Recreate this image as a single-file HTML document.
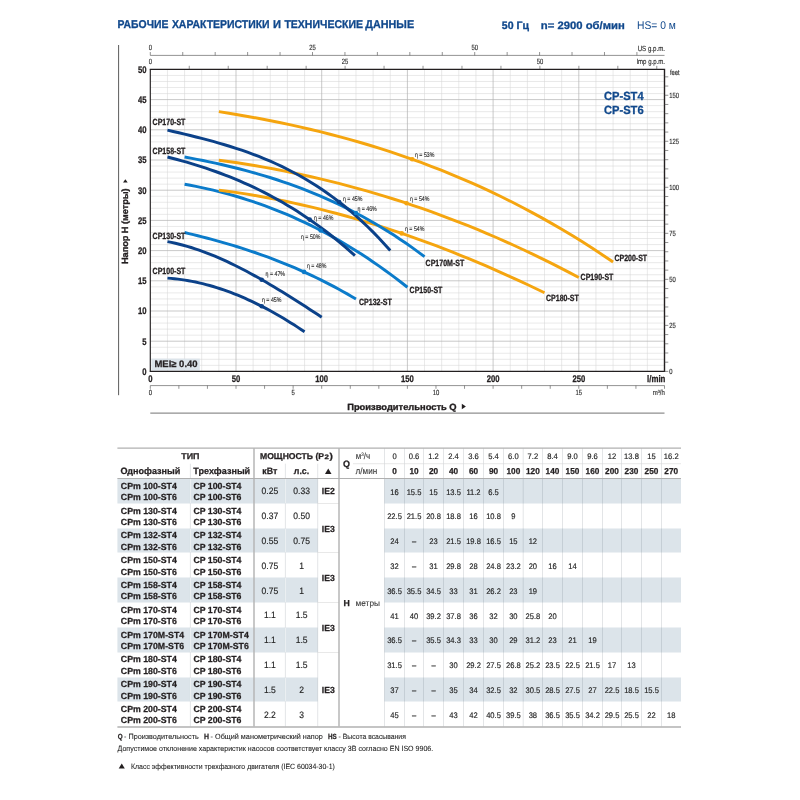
<!DOCTYPE html>
<html lang="ru">
<head>
<meta charset="utf-8">
<title>CP-ST4 / CP-ST6 — рабочие характеристики и технические данные</title>
<style>
html,body{margin:0;padding:0;background:#fff}
body{width:800px;height:800px;overflow:hidden}
svg{display:block;font-family:"Liberation Sans",sans-serif;text-rendering:geometricPrecision}
</style>
</head>
<body>
<svg width="800" height="800" viewBox="0 0 800 800" role="img" aria-label="CP-ST4 CP-ST6">
<rect width="800" height="800" fill="#fff"/>
<text y="28.4" font-size="11.3" font-weight="bold" fill="#10488c" stroke="#10488c" stroke-width="0.3"><tspan x="117.5" textLength="50.9" lengthAdjust="spacingAndGlyphs">РАБОЧИЕ</tspan> <tspan x="171.9" textLength="97.7" lengthAdjust="spacingAndGlyphs">ХАРАКТЕРИСТИКИ</tspan> <tspan x="272.9" textLength="8" lengthAdjust="spacingAndGlyphs">И</tspan> <tspan x="284.4" textLength="78.6" lengthAdjust="spacingAndGlyphs">ТЕХНИЧЕСКИЕ</tspan> <tspan x="365.3" textLength="48.8" lengthAdjust="spacingAndGlyphs">ДАННЫЕ</tspan></text>
<text x="501.8" y="28.5" font-size="10.8" font-weight="bold" fill="#10488c" textLength="27.2" lengthAdjust="spacingAndGlyphs" stroke="#10488c" stroke-width="0.3">50 Гц</text>
<text x="540.8" y="28.5" font-size="10.8" font-weight="bold" fill="#10488c" textLength="84" lengthAdjust="spacingAndGlyphs" stroke="#10488c" stroke-width="0.3">n= 2900 об/мин</text>
<text x="637" y="28.8" font-size="11.2" fill="#10488c" textLength="38.8" lengthAdjust="spacingAndGlyphs">HS= 0 м</text>
<line x1="118.6" y1="45" x2="118.6" y2="395.2" stroke="#4a4a4a" stroke-width="0.9"/>
<path d="M167.44 69.4V371.4M184.58 69.4V371.4M201.72 69.4V371.4M218.86 69.4V371.4M253.14 69.4V371.4M270.28 69.4V371.4M287.42 69.4V371.4M304.56 69.4V371.4M338.84 69.4V371.4M355.98 69.4V371.4M373.12 69.4V371.4M390.26 69.4V371.4M424.54 69.4V371.4M441.68 69.4V371.4M458.82 69.4V371.4M475.96 69.4V371.4M510.24 69.4V371.4M527.38 69.4V371.4M544.52 69.4V371.4M561.66 69.4V371.4M595.94 69.4V371.4M613.08 69.4V371.4M630.22 69.4V371.4M647.36 69.4V371.4M150.3 365.36H664.5M150.3 359.32H664.5M150.3 353.28H664.5M150.3 347.24H664.5M150.3 335.16H664.5M150.3 329.12H664.5M150.3 323.08H664.5M150.3 317.04H664.5M150.3 304.96H664.5M150.3 298.92H664.5M150.3 292.88H664.5M150.3 286.84H664.5M150.3 274.76H664.5M150.3 268.72H664.5M150.3 262.68H664.5M150.3 256.64H664.5M150.3 244.56H664.5M150.3 238.52H664.5M150.3 232.48H664.5M150.3 226.44H664.5M150.3 214.36H664.5M150.3 208.32H664.5M150.3 202.28H664.5M150.3 196.24H664.5M150.3 184.16H664.5M150.3 178.12H664.5M150.3 172.08H664.5M150.3 166.04H664.5M150.3 153.96H664.5M150.3 147.92H664.5M150.3 141.88H664.5M150.3 135.84H664.5M150.3 123.76H664.5M150.3 117.72H664.5M150.3 111.68H664.5M150.3 105.64H664.5M150.3 93.56H664.5M150.3 87.52H664.5M150.3 81.48H664.5M150.3 75.44H664.5" stroke="#d6d6d6" stroke-width="0.55" fill="none"/>
<path d="M236 69.4V371.4M321.7 69.4V371.4M407.4 69.4V371.4M493.1 69.4V371.4M578.8 69.4V371.4M150.3 341.2H664.5M150.3 311H664.5M150.3 280.8H664.5M150.3 250.6H664.5M150.3 220.4H664.5M150.3 190.2H664.5M150.3 160H664.5M150.3 129.8H664.5M150.3 99.6H664.5" stroke="#b2b2b2" stroke-width="0.7" fill="none"/>
<rect x="151.4" y="358.6" width="48.4" height="11.9" fill="#dce4ea"/>
<text x="154.4" y="367.3" font-size="9.4" font-weight="bold" fill="#231f20" textLength="43.2" lengthAdjust="spacingAndGlyphs" stroke="#231f20" stroke-width="0.25">MEI≥ 0.40</text>
<path d="M184.58 232.55 L188.97 233.59 L193.37 234.66 L197.76 235.75 L202.16 236.86 L206.55 238 L210.95 239.17 L215.34 240.37 L219.74 241.59 L224.13 242.84 L228.53 244.12 L232.92 245.44 L237.32 246.78 L241.71 248.16 L246.11 249.58 L250.5 251.03 L254.9 252.52 L259.29 254.04 L263.69 255.6 L268.08 257.2 L272.48 258.85 L276.87 260.53 L281.27 262.26 L285.66 264.03 L290.06 265.84 L294.45 267.7 L298.85 269.6 L303.24 271.56 L307.64 273.56 L312.03 275.61 L316.43 277.71 L320.82 279.86 L325.22 282.06 L329.61 284.32 L334.01 286.63 L338.4 289 L342.8 291.42 L347.19 293.9 L351.59 296.44 L355.98 299.03" stroke="#0b7bca" stroke-width="2.95" fill="none" stroke-linejoin="round"/>
<path d="M184.58 184.18 L190.29 185.24 L196.01 186.37 L201.72 187.57 L207.43 188.83 L213.15 190.17 L218.86 191.59 L224.57 193.08 L230.29 194.64 L236 196.28 L241.71 198.01 L247.43 199.81 L253.14 201.69 L258.85 203.65 L264.57 205.69 L270.28 207.82 L275.99 210.04 L281.71 212.34 L287.42 214.73 L293.13 217.21 L298.85 219.78 L304.56 222.44 L310.27 225.19 L315.99 228.03 L321.7 230.98 L327.41 234.01 L333.13 237.15 L338.84 240.38 L344.55 243.71 L350.27 247.15 L355.98 250.68 L361.69 254.32 L367.41 258.06 L373.12 261.91 L378.83 265.86 L384.55 269.93 L390.26 274.1 L395.97 278.38 L401.69 282.77 L407.4 287.28" stroke="#0b7bca" stroke-width="2.95" fill="none" stroke-linejoin="round"/>
<path d="M218.86 190.09 L227.21 191.18 L235.56 192.37 L243.91 193.64 L252.26 195 L260.61 196.45 L268.96 197.98 L277.31 199.6 L285.66 201.3 L294.01 203.09 L302.36 204.96 L310.71 206.91 L319.06 208.94 L327.41 211.06 L335.76 213.26 L344.11 215.54 L352.46 217.89 L360.81 220.33 L369.16 222.85 L377.51 225.44 L385.87 228.11 L394.22 230.86 L402.57 233.68 L410.92 236.58 L419.27 239.56 L427.62 242.6 L435.97 245.73 L444.32 248.92 L452.67 252.19 L461.02 255.53 L469.37 258.94 L477.72 262.42 L486.07 265.98 L494.42 269.6 L502.77 273.29 L511.12 277.05 L519.47 280.87 L527.82 284.76 L536.17 288.72 L544.52 292.75" stroke="#f5a50f" stroke-width="2.95" fill="none" stroke-linejoin="round"/>
<path d="M218.86 160.17 L228.09 161.44 L237.32 162.8 L246.55 164.24 L255.78 165.77 L265.01 167.38 L274.24 169.07 L283.46 170.86 L292.69 172.73 L301.92 174.69 L311.15 176.74 L320.38 178.87 L329.61 181.1 L338.84 183.42 L348.07 185.83 L357.3 188.32 L366.53 190.92 L375.76 193.6 L384.99 196.38 L394.22 199.25 L403.44 202.22 L412.67 205.28 L421.9 208.44 L431.13 211.7 L440.36 215.05 L449.59 218.51 L458.82 222.06 L468.05 225.71 L477.28 229.46 L486.51 233.31 L495.74 237.26 L504.97 241.31 L514.2 245.47 L523.42 249.73 L532.65 254.09 L541.88 258.56 L551.11 263.13 L560.34 267.81 L569.57 272.6 L578.8 277.49" stroke="#f5a50f" stroke-width="2.95" fill="none" stroke-linejoin="round"/>
<path d="M218.86 111.66 L228.97 113.26 L239.08 114.95 L249.18 116.72 L259.29 118.57 L269.4 120.51 L279.51 122.55 L289.62 124.68 L299.73 126.91 L309.83 129.24 L319.94 131.67 L330.05 134.22 L340.16 136.87 L350.27 139.64 L360.37 142.53 L370.48 145.53 L380.59 148.66 L390.7 151.92 L400.81 155.31 L410.92 158.83 L421.02 162.48 L431.13 166.28 L441.24 170.22 L451.35 174.3 L461.46 178.54 L471.57 182.92 L481.67 187.46 L491.78 192.16 L501.89 197.02 L512 202.04 L522.11 207.24 L532.21 212.6 L542.32 218.14 L552.43 223.85 L562.54 229.74 L572.65 235.82 L582.76 242.09 L592.86 248.54 L602.97 255.19 L613.08 262.03" stroke="#f5a50f" stroke-width="2.95" fill="none" stroke-linejoin="round"/>
<path d="M184.58 157.03 L190.73 158.17 L196.89 159.35 L203.04 160.57 L209.19 161.85 L215.34 163.17 L221.5 164.54 L227.65 165.97 L233.8 167.46 L239.96 169.01 L246.11 170.62 L252.26 172.3 L258.41 174.05 L264.57 175.87 L270.72 177.76 L276.87 179.73 L283.03 181.78 L289.18 183.9 L295.33 186.12 L301.48 188.42 L307.64 190.81 L313.79 193.29 L319.94 195.87 L326.09 198.54 L332.25 201.31 L338.4 204.19 L344.55 207.17 L350.71 210.26 L356.86 213.46 L363.01 216.77 L369.16 220.2 L375.32 223.75 L381.47 227.41 L387.62 231.21 L393.78 235.12 L399.93 239.17 L406.08 243.34 L412.23 247.66 L418.39 252.1 L424.54 256.69" stroke="#0b7bca" stroke-width="2.95" fill="none" stroke-linejoin="round"/>
<path d="M167.44 278.1 L170.96 278.38 L174.47 278.72 L177.99 279.12 L181.5 279.59 L185.02 280.12 L188.54 280.71 L192.05 281.36 L195.57 282.07 L199.08 282.85 L202.6 283.68 L206.11 284.58 L209.63 285.53 L213.15 286.54 L216.66 287.61 L220.18 288.74 L223.69 289.93 L227.21 291.17 L230.73 292.47 L234.24 293.82 L237.76 295.23 L241.27 296.69 L244.79 298.21 L248.31 299.78 L251.82 301.41 L255.34 303.08 L258.85 304.81 L262.37 306.59 L265.89 308.43 L269.4 310.31 L272.92 312.24 L276.43 314.22 L279.95 316.25 L283.46 318.33 L286.98 320.46 L290.5 322.64 L294.01 324.86 L297.53 327.13 L301.04 329.45 L304.56 331.81" stroke="#0b4189" stroke-width="2.95" fill="none" stroke-linejoin="round"/>
<path d="M167.44 241.65 L171.4 242.41 L175.35 243.26 L179.31 244.2 L183.26 245.23 L187.22 246.34 L191.17 247.52 L195.13 248.79 L199.08 250.13 L203.04 251.54 L206.99 253.03 L210.95 254.58 L214.9 256.2 L218.86 257.89 L222.82 259.63 L226.77 261.44 L230.73 263.31 L234.68 265.23 L238.64 267.2 L242.59 269.23 L246.55 271.31 L250.5 273.43 L254.46 275.6 L258.41 277.81 L262.37 280.06 L266.32 282.34 L270.28 284.67 L274.24 287.03 L278.19 289.42 L282.15 291.83 L286.1 294.28 L290.06 296.75 L294.01 299.24 L297.97 301.76 L301.92 304.29 L305.88 306.84 L309.83 309.4 L313.79 311.97 L317.74 314.56 L321.7 317.15" stroke="#0b4189" stroke-width="2.95" fill="none" stroke-linejoin="round"/>
<path d="M167.44 156.97 L172.25 158.21 L177.06 159.49 L181.86 160.81 L186.67 162.18 L191.48 163.6 L196.29 165.07 L201.1 166.59 L205.9 168.17 L210.71 169.81 L215.52 171.5 L220.33 173.26 L225.14 175.08 L229.94 176.96 L234.75 178.91 L239.56 180.93 L244.37 183.03 L249.18 185.19 L253.98 187.44 L258.79 189.75 L263.6 192.15 L268.41 194.63 L273.22 197.2 L278.02 199.85 L282.83 202.59 L287.64 205.42 L292.45 208.34 L297.26 211.35 L302.06 214.46 L306.87 217.67 L311.68 220.98 L316.49 224.39 L321.3 227.9 L326.1 231.53 L330.91 235.26 L335.72 239.1 L340.53 243.05 L345.34 247.12 L350.14 251.3 L354.95 255.6" stroke="#0b4189" stroke-width="2.95" fill="none" stroke-linejoin="round"/>
<path d="M167.44 130.12 L173.15 131.45 L178.87 132.79 L184.58 134.15 L190.29 135.53 L196.01 136.95 L201.72 138.4 L207.43 139.9 L213.15 141.45 L218.86 143.06 L224.57 144.73 L230.29 146.47 L236 148.29 L241.71 150.2 L247.43 152.19 L253.14 154.28 L258.85 156.48 L264.57 158.78 L270.28 161.2 L275.99 163.75 L281.71 166.42 L287.42 169.23 L293.13 172.19 L298.85 175.29 L304.56 178.55 L310.27 181.97 L315.99 185.55 L321.7 189.32 L327.41 193.27 L333.13 197.4 L338.84 201.73 L344.55 206.26 L350.27 211 L355.98 215.95 L361.69 221.13 L367.41 226.53 L373.12 232.16 L378.83 238.04 L384.55 244.16 L390.26 250.54" stroke="#0b4189" stroke-width="2.95" fill="none" stroke-linejoin="round"/>
<circle cx="261.71" cy="306.26" r="2.3" fill="#0b4189"/>
<text x="262" y="302.11" font-size="6.7" fill="#262626" textLength="19.4" lengthAdjust="spacingAndGlyphs" stroke="#262626" stroke-width="0.12">η = 45%</text>
<circle cx="261.71" cy="279.68" r="2.3" fill="#0b4189"/>
<text x="265.6" y="276.11" font-size="6.7" fill="#262626" textLength="19.4" lengthAdjust="spacingAndGlyphs" stroke="#262626" stroke-width="0.12">η = 47%</text>
<circle cx="304.05" cy="271.92" r="2.3" fill="#0b7bca"/>
<text x="307" y="268.11" font-size="6.7" fill="#262626" textLength="19.4" lengthAdjust="spacingAndGlyphs" stroke="#262626" stroke-width="0.12">η = 48%</text>
<circle cx="309.7" cy="219.61" r="2.3" fill="#0b4189"/>
<text x="314" y="219.51" font-size="6.7" fill="#262626" textLength="19.4" lengthAdjust="spacingAndGlyphs" stroke="#262626" stroke-width="0.12">η = 46%</text>
<circle cx="320.67" cy="230.44" r="2.3" fill="#0b7bca"/>
<text x="301" y="238.51" font-size="6.7" fill="#262626" textLength="19.4" lengthAdjust="spacingAndGlyphs" stroke="#262626" stroke-width="0.12">η = 50%</text>
<circle cx="339.18" cy="202" r="2.3" fill="#0b4189"/>
<text x="343" y="200.51" font-size="6.7" fill="#262626" textLength="19.4" lengthAdjust="spacingAndGlyphs" stroke="#262626" stroke-width="0.12">η = 45%</text>
<circle cx="355.98" cy="213" r="2.3" fill="#0b7bca"/>
<text x="357.4" y="210.91" font-size="6.7" fill="#262626" textLength="19.4" lengthAdjust="spacingAndGlyphs" stroke="#262626" stroke-width="0.12">η = 46%</text>
<circle cx="412.2" cy="159.28" r="2.3" fill="#f5a50f"/>
<text x="415" y="156.51" font-size="6.7" fill="#262626" textLength="19.4" lengthAdjust="spacingAndGlyphs" stroke="#262626" stroke-width="0.12">η = 53%</text>
<circle cx="406.54" cy="203.24" r="2.3" fill="#f5a50f"/>
<text x="410" y="200.51" font-size="6.7" fill="#262626" textLength="19.4" lengthAdjust="spacingAndGlyphs" stroke="#262626" stroke-width="0.12">η = 54%</text>
<circle cx="401.74" cy="233.4" r="2.3" fill="#f5a50f"/>
<text x="405" y="230.51" font-size="6.7" fill="#262626" textLength="19.4" lengthAdjust="spacingAndGlyphs" stroke="#262626" stroke-width="0.12">η = 54%</text>
<path d="M149.75 69.4H665.2M149.75 371.4H665.2M664.5 69.4V371.4" fill="none" stroke="#231f20" stroke-width="1.4"/>
<path d="M150.3 69.4V371.4" fill="none" stroke="#231f20" stroke-width="1.15"/>
<text x="604" y="100" font-size="11.8" font-weight="bold" fill="#10488c" textLength="39.6" lengthAdjust="spacingAndGlyphs" stroke="#10488c" stroke-width="0.3">CP-ST4</text>
<text x="604" y="114" font-size="11.8" font-weight="bold" fill="#10488c" textLength="39.6" lengthAdjust="spacingAndGlyphs" stroke="#10488c" stroke-width="0.3">CP-ST6</text>
<text x="152.6" y="125.2" font-size="9" font-weight="bold" fill="#231f20" textLength="32.77" lengthAdjust="spacingAndGlyphs" stroke="#231f20" stroke-width="0.3">CP170-ST</text>
<text x="152.6" y="153.6" font-size="9" font-weight="bold" fill="#231f20" textLength="32.77" lengthAdjust="spacingAndGlyphs" stroke="#231f20" stroke-width="0.3">CP158-ST</text>
<text x="152.6" y="239.2" font-size="9" font-weight="bold" fill="#231f20" textLength="32.77" lengthAdjust="spacingAndGlyphs" stroke="#231f20" stroke-width="0.3">CP130-ST</text>
<text x="152.6" y="274.2" font-size="9" font-weight="bold" fill="#231f20" textLength="32.77" lengthAdjust="spacingAndGlyphs" stroke="#231f20" stroke-width="0.3">CP100-ST</text>
<text x="359" y="305.1" font-size="9" font-weight="bold" fill="#231f20" textLength="32.77" lengthAdjust="spacingAndGlyphs" stroke="#231f20" stroke-width="0.3">CP132-ST</text>
<text x="409.6" y="293.3" font-size="9" font-weight="bold" fill="#231f20" textLength="32.77" lengthAdjust="spacingAndGlyphs" stroke="#231f20" stroke-width="0.3">CP150-ST</text>
<text x="425.6" y="265.6" font-size="9" font-weight="bold" fill="#231f20" textLength="38.62" lengthAdjust="spacingAndGlyphs" stroke="#231f20" stroke-width="0.3">CP170M-ST</text>
<text x="546" y="300.5" font-size="9" font-weight="bold" fill="#231f20" textLength="32.77" lengthAdjust="spacingAndGlyphs" stroke="#231f20" stroke-width="0.3">CP180-ST</text>
<text x="580.6" y="279.5" font-size="9" font-weight="bold" fill="#231f20" textLength="32.77" lengthAdjust="spacingAndGlyphs" stroke="#231f20" stroke-width="0.3">CP190-ST</text>
<text x="614.4" y="260.8" font-size="9" font-weight="bold" fill="#231f20" textLength="32.77" lengthAdjust="spacingAndGlyphs" stroke="#231f20" stroke-width="0.3">CP200-ST</text>
<text x="146.6" y="374.7" font-size="9.6" font-weight="bold" text-anchor="end" fill="#231f20" textLength="4.27" lengthAdjust="spacingAndGlyphs" stroke="#231f20" stroke-width="0.3">0</text>
<text x="146.6" y="344.5" font-size="9.6" font-weight="bold" text-anchor="end" fill="#231f20" textLength="4.27" lengthAdjust="spacingAndGlyphs" stroke="#231f20" stroke-width="0.3">5</text>
<text x="146.6" y="314.3" font-size="9.6" font-weight="bold" text-anchor="end" fill="#231f20" textLength="8.54" lengthAdjust="spacingAndGlyphs" stroke="#231f20" stroke-width="0.3">10</text>
<text x="146.6" y="284.1" font-size="9.6" font-weight="bold" text-anchor="end" fill="#231f20" textLength="8.54" lengthAdjust="spacingAndGlyphs" stroke="#231f20" stroke-width="0.3">15</text>
<text x="146.6" y="253.9" font-size="9.6" font-weight="bold" text-anchor="end" fill="#231f20" textLength="8.54" lengthAdjust="spacingAndGlyphs" stroke="#231f20" stroke-width="0.3">20</text>
<text x="146.6" y="223.7" font-size="9.6" font-weight="bold" text-anchor="end" fill="#231f20" textLength="8.54" lengthAdjust="spacingAndGlyphs" stroke="#231f20" stroke-width="0.3">25</text>
<text x="146.6" y="193.5" font-size="9.6" font-weight="bold" text-anchor="end" fill="#231f20" textLength="8.54" lengthAdjust="spacingAndGlyphs" stroke="#231f20" stroke-width="0.3">30</text>
<text x="146.6" y="163.3" font-size="9.6" font-weight="bold" text-anchor="end" fill="#231f20" textLength="8.54" lengthAdjust="spacingAndGlyphs" stroke="#231f20" stroke-width="0.3">35</text>
<text x="146.6" y="133.1" font-size="9.6" font-weight="bold" text-anchor="end" fill="#231f20" textLength="8.54" lengthAdjust="spacingAndGlyphs" stroke="#231f20" stroke-width="0.3">40</text>
<text x="146.6" y="102.9" font-size="9.6" font-weight="bold" text-anchor="end" fill="#231f20" textLength="8.54" lengthAdjust="spacingAndGlyphs" stroke="#231f20" stroke-width="0.3">45</text>
<text x="146.6" y="72.7" font-size="9.6" font-weight="bold" text-anchor="end" fill="#231f20" textLength="8.54" lengthAdjust="spacingAndGlyphs" stroke="#231f20" stroke-width="0.3">50</text>
<text x="150.3" y="381.6" font-size="9.6" font-weight="bold" text-anchor="middle" fill="#231f20" textLength="4.27" lengthAdjust="spacingAndGlyphs" stroke="#231f20" stroke-width="0.3">0</text>
<text x="236" y="381.6" font-size="9.6" font-weight="bold" text-anchor="middle" fill="#231f20" textLength="8.54" lengthAdjust="spacingAndGlyphs" stroke="#231f20" stroke-width="0.3">50</text>
<text x="321.7" y="381.6" font-size="9.6" font-weight="bold" text-anchor="middle" fill="#231f20" textLength="12.81" lengthAdjust="spacingAndGlyphs" stroke="#231f20" stroke-width="0.3">100</text>
<text x="407.4" y="381.6" font-size="9.6" font-weight="bold" text-anchor="middle" fill="#231f20" textLength="12.81" lengthAdjust="spacingAndGlyphs" stroke="#231f20" stroke-width="0.3">150</text>
<text x="493.1" y="381.6" font-size="9.6" font-weight="bold" text-anchor="middle" fill="#231f20" textLength="12.81" lengthAdjust="spacingAndGlyphs" stroke="#231f20" stroke-width="0.3">200</text>
<text x="578.8" y="381.6" font-size="9.6" font-weight="bold" text-anchor="middle" fill="#231f20" textLength="12.81" lengthAdjust="spacingAndGlyphs" stroke="#231f20" stroke-width="0.3">250</text>
<text x="665.4" y="381.6" font-size="9.6" font-weight="bold" text-anchor="end" fill="#231f20" textLength="18.3" lengthAdjust="spacingAndGlyphs" stroke="#231f20" stroke-width="0.3">l/min</text>
<g transform="translate(127.5 264.0) rotate(-90)">
<text x="0" y="0" font-size="9" font-weight="bold" fill="#231f20" textLength="75.6" lengthAdjust="spacingAndGlyphs" stroke="#231f20" stroke-width="0.35">Напор H (метры)</text>
<path d="M81.4 -4.5l3.3 2.35l-3.3 2.35z" fill="#231f20"/>
</g>
<text x="347.2" y="410.1" font-size="9" font-weight="bold" fill="#231f20" textLength="109.4" lengthAdjust="spacingAndGlyphs" stroke="#231f20" stroke-width="0.35">Производительность Q</text>
<path d="M461.8 403.8l4.1 2.7l-4.1 2.7z" fill="#231f20"/>
<line x1="150.3" y1="55.4" x2="664.5" y2="55.4" stroke="#4a4a4a" stroke-width="0.6"/>
<path d="M150.3 52V55.4M182.74 52V55.4M215.18 52V55.4M247.62 52V55.4M280.06 52V55.4M312.5 52V55.4M344.95 52V55.4M377.39 52V55.4M409.83 52V55.4M442.27 52V55.4M474.71 52V55.4M507.15 52V55.4M539.59 52V55.4M572.03 52V55.4M604.47 52V55.4M636.91 52V55.4" stroke="#4a4a4a" stroke-width="0.6" fill="none"/>
<text x="150.3" y="50.4" font-size="7.6" text-anchor="middle" fill="#2b2b2b" textLength="3.25" lengthAdjust="spacingAndGlyphs" stroke="#2b2b2b" stroke-width="0.15">0</text>
<text x="312.5" y="50.4" font-size="7.6" text-anchor="middle" fill="#2b2b2b" textLength="6.51" lengthAdjust="spacingAndGlyphs" stroke="#2b2b2b" stroke-width="0.15">25</text>
<text x="474.71" y="50.4" font-size="7.6" text-anchor="middle" fill="#2b2b2b" textLength="6.51" lengthAdjust="spacingAndGlyphs" stroke="#2b2b2b" stroke-width="0.15">50</text>
<text x="665" y="50.5" font-size="7.6" text-anchor="end" fill="#2b2b2b" textLength="27.3" lengthAdjust="spacingAndGlyphs" stroke="#2b2b2b" stroke-width="0.15">US g.p.m.</text>
<path d="M189.26 65.8V69.4M228.22 65.8V69.4M267.18 65.8V69.4M306.14 65.8V69.4M345.1 65.8V69.4M384.06 65.8V69.4M423.02 65.8V69.4M461.98 65.8V69.4M500.94 65.8V69.4M539.9 65.8V69.4M578.86 65.8V69.4M617.82 65.8V69.4M656.78 65.8V69.4" stroke="#4a4a4a" stroke-width="0.6" fill="none"/>
<text x="150.3" y="64.3" font-size="7.6" text-anchor="middle" fill="#2b2b2b" textLength="3.25" lengthAdjust="spacingAndGlyphs" stroke="#2b2b2b" stroke-width="0.15">0</text>
<text x="345.1" y="64.3" font-size="7.6" text-anchor="middle" fill="#2b2b2b" textLength="6.51" lengthAdjust="spacingAndGlyphs" stroke="#2b2b2b" stroke-width="0.15">25</text>
<text x="539.9" y="64.3" font-size="7.6" text-anchor="middle" fill="#2b2b2b" textLength="6.51" lengthAdjust="spacingAndGlyphs" stroke="#2b2b2b" stroke-width="0.15">50</text>
<text x="665" y="64.4" font-size="7.6" text-anchor="end" fill="#2b2b2b" textLength="28.6" lengthAdjust="spacingAndGlyphs" stroke="#2b2b2b" stroke-width="0.15">Imp g.p.m.</text>
<path d="M664.5 371.4h3.8M664.5 362.2h3.8M664.5 352.99h3.8M664.5 343.79h3.8M664.5 334.58h3.8M664.5 325.38h3.8M664.5 316.17h3.8M664.5 306.97h3.8M664.5 297.76h3.8M664.5 288.56h3.8M664.5 279.35h3.8M664.5 270.15h3.8M664.5 260.94h3.8M664.5 251.74h3.8M664.5 242.53h3.8M664.5 233.33h3.8M664.5 224.12h3.8M664.5 214.92h3.8M664.5 205.71h3.8M664.5 196.51h3.8M664.5 187.3h3.8M664.5 178.1h3.8M664.5 168.89h3.8M664.5 159.69h3.8M664.5 150.48h3.8M664.5 141.28h3.8M664.5 132.07h3.8M664.5 122.87h3.8M664.5 113.66h3.8M664.5 104.46h3.8M664.5 95.25h3.8M664.5 86.05h3.8M664.5 76.84h3.8" stroke="#4a4a4a" stroke-width="0.6" fill="none"/>
<text x="669.2" y="374.05" font-size="7.6" fill="#2b2b2b" textLength="3.25" lengthAdjust="spacingAndGlyphs" stroke="#2b2b2b" stroke-width="0.15">0</text>
<text x="669.2" y="328.03" font-size="7.6" fill="#2b2b2b" textLength="6.51" lengthAdjust="spacingAndGlyphs" stroke="#2b2b2b" stroke-width="0.15">25</text>
<text x="669.2" y="282" font-size="7.6" fill="#2b2b2b" textLength="6.51" lengthAdjust="spacingAndGlyphs" stroke="#2b2b2b" stroke-width="0.15">50</text>
<text x="669.2" y="235.98" font-size="7.6" fill="#2b2b2b" textLength="6.51" lengthAdjust="spacingAndGlyphs" stroke="#2b2b2b" stroke-width="0.15">75</text>
<text x="669.2" y="189.95" font-size="7.6" fill="#2b2b2b" textLength="9.76" lengthAdjust="spacingAndGlyphs" stroke="#2b2b2b" stroke-width="0.15">100</text>
<text x="669.2" y="143.93" font-size="7.6" fill="#2b2b2b" textLength="9.76" lengthAdjust="spacingAndGlyphs" stroke="#2b2b2b" stroke-width="0.15">125</text>
<text x="669.2" y="97.9" font-size="7.6" fill="#2b2b2b" textLength="9.76" lengthAdjust="spacingAndGlyphs" stroke="#2b2b2b" stroke-width="0.15">150</text>
<text x="669.9" y="74.6" font-size="7.6" fill="#2b2b2b" textLength="9.76" lengthAdjust="spacingAndGlyphs" stroke="#2b2b2b" stroke-width="0.15">feet</text>
<line x1="150.3" y1="385.6" x2="664.5" y2="385.6" stroke="#4a4a4a" stroke-width="0.6"/>
<path d="M150.3 385.6v3.2M178.87 385.6v3.2M207.43 385.6v3.2M236 385.6v3.2M264.57 385.6v3.2M293.13 385.6v3.2M321.7 385.6v3.2M350.27 385.6v3.2M378.83 385.6v3.2M407.4 385.6v3.2M435.97 385.6v3.2M464.53 385.6v3.2M493.1 385.6v3.2M521.67 385.6v3.2M550.23 385.6v3.2M578.8 385.6v3.2M607.37 385.6v3.2M635.93 385.6v3.2M664.5 385.6v3.2" stroke="#4a4a4a" stroke-width="0.6" fill="none"/>
<text x="150.3" y="395" font-size="7.4" text-anchor="middle" fill="#2b2b2b" textLength="3.29" lengthAdjust="spacingAndGlyphs" stroke="#2b2b2b" stroke-width="0.15">0</text>
<text x="293.13" y="395" font-size="7.4" text-anchor="middle" fill="#2b2b2b" textLength="3.29" lengthAdjust="spacingAndGlyphs" stroke="#2b2b2b" stroke-width="0.15">5</text>
<text x="435.97" y="395" font-size="7.4" text-anchor="middle" fill="#2b2b2b" textLength="6.58" lengthAdjust="spacingAndGlyphs" stroke="#2b2b2b" stroke-width="0.15">10</text>
<text x="578.8" y="395" font-size="7.4" text-anchor="middle" fill="#2b2b2b" textLength="6.58" lengthAdjust="spacingAndGlyphs" stroke="#2b2b2b" stroke-width="0.15">15</text>
<text x="664.9" y="395.4" font-size="7.4" text-anchor="end" fill="#2b2b2b" textLength="12.2" lengthAdjust="spacingAndGlyphs" stroke="#2b2b2b" stroke-width="0.15">m<tspan font-size="4.6" dy="-2.6">3</tspan><tspan dy="2.6">/h</tspan></text>
<line x1="150.3" y1="413.1" x2="664.5" y2="413.1" stroke="#8f8f8f" stroke-width="1.2"/>
<rect x="117.4" y="478.5" width="200.3" height="25" fill="#dce4ea"/>
<rect x="384.4" y="478.5" width="296.6" height="25" fill="#dce4ea"/>
<rect x="117.4" y="528.5" width="200.3" height="24" fill="#dce4ea"/>
<rect x="384.4" y="528.5" width="296.6" height="24" fill="#dce4ea"/>
<rect x="117.4" y="577.5" width="200.3" height="25" fill="#dce4ea"/>
<rect x="384.4" y="577.5" width="296.6" height="25" fill="#dce4ea"/>
<rect x="117.4" y="627.5" width="200.3" height="25" fill="#dce4ea"/>
<rect x="384.4" y="627.5" width="296.6" height="25" fill="#dce4ea"/>
<rect x="117.4" y="677.5" width="200.3" height="24" fill="#dce4ea"/>
<rect x="384.4" y="677.5" width="296.6" height="24" fill="#dce4ea"/>
<path d="M190.4 463.7V726.6M285.4 463.7V726.6M317.7 463.7V726.6M384.5 448.2V726.6M404.5 448.2V726.6M423.5 448.2V726.6M443.5 448.2V726.6M463.5 448.2V726.6M483.5 448.2V726.6M503.5 448.2V726.6M523.2 448.2V726.6M542.5 448.2V726.6M562.5 448.2V726.6M582.5 448.2V726.6M602.5 448.2V726.6M621.5 448.2V726.6M641.5 448.2V726.6M661.5 448.2V726.6" stroke="rgba(70,80,95,0.23)" stroke-width="0.65" fill="none"/>
<path d="M190.4 478.5V503.5M285.4 478.5V503.5M190.4 528.5V552.5M285.4 528.5V552.5M190.4 577.5V602.5M285.4 577.5V602.5M190.4 627.5V652.5M285.4 627.5V652.5M190.4 677.5V701.5M285.4 677.5V701.5" stroke="#f4f6f8" stroke-width="0.9" fill="none"/>
<line x1="353" y1="463.7" x2="681" y2="463.7" stroke="#d9d9d9" stroke-width="0.6"/>
<line x1="317.7" y1="503.5" x2="339" y2="503.5" stroke="#d9d9d9" stroke-width="0.6"/>
<line x1="317.7" y1="552.5" x2="339" y2="552.5" stroke="#d9d9d9" stroke-width="0.6"/>
<line x1="317.7" y1="602.5" x2="339" y2="602.5" stroke="#d9d9d9" stroke-width="0.6"/>
<line x1="317.7" y1="652.5" x2="339" y2="652.5" stroke="#d9d9d9" stroke-width="0.6"/>
<line x1="254" y1="448.2" x2="254" y2="726.6" stroke="#b6b6b6" stroke-width="1.5"/>
<line x1="339" y1="448.2" x2="339" y2="726.6" stroke="#b6b6b6" stroke-width="1.5"/>
<line x1="117.4" y1="448.2" x2="681" y2="448.2" stroke="#b0b0b0" stroke-width="1.3"/>
<line x1="117.4" y1="478.5" x2="681" y2="478.5" stroke="#b0b0b0" stroke-width="1"/>
<line x1="117.4" y1="727" x2="681" y2="727" stroke="#b0b0b0" stroke-width="1.3"/>
<text x="190.4" y="459" font-size="8.5" font-weight="bold" text-anchor="middle" fill="#231f20" textLength="18.2" lengthAdjust="spacingAndGlyphs" stroke="#231f20" stroke-width="0.25">ТИП</text>
<text x="260" y="459" font-size="8.5" font-weight="bold" fill="#231f20" textLength="64" lengthAdjust="spacingAndGlyphs" stroke="#231f20" stroke-width="0.25">МОЩНОСТЬ (P</text>
<text x="324.4" y="459" font-size="6.4" font-weight="bold" fill="#231f20" textLength="4.4" lengthAdjust="spacingAndGlyphs" stroke="#231f20" stroke-width="0.25">2</text>
<text x="329.4" y="459" font-size="8.5" font-weight="bold" fill="#231f20" textLength="3.4" lengthAdjust="spacingAndGlyphs" stroke="#231f20" stroke-width="0.25">)</text>
<text x="120.5" y="474.4" font-size="9.2" font-weight="bold" fill="#231f20" textLength="59.9" lengthAdjust="spacingAndGlyphs" stroke="#231f20" stroke-width="0.25">Однофазный</text>
<text x="193.3" y="474.4" font-size="9.2" font-weight="bold" fill="#231f20" textLength="56.9" lengthAdjust="spacingAndGlyphs" stroke="#231f20" stroke-width="0.25">Трехфазный</text>
<text x="269.8" y="474.4" font-size="9.2" font-weight="bold" text-anchor="middle" fill="#231f20" textLength="15" lengthAdjust="spacingAndGlyphs" stroke="#231f20" stroke-width="0.25">кВт</text>
<text x="301.5" y="474.4" font-size="9.2" font-weight="bold" text-anchor="middle" fill="#231f20" textLength="15.4" lengthAdjust="spacingAndGlyphs" stroke="#231f20" stroke-width="0.25">л.с.</text>
<path d="M325 474.1l3.25 -5.5l3.25 5.5z" fill="#231f20"/>
<text x="343" y="466.8" font-size="9.3" font-weight="bold" fill="#231f20" textLength="7" lengthAdjust="spacingAndGlyphs" stroke="#231f20" stroke-width="0.25">Q</text>
<text x="355.8" y="458.9" font-size="8.8" fill="#3d3d3d" textLength="14.4" lengthAdjust="spacingAndGlyphs" stroke="#3d3d3d" stroke-width="0.12">м<tspan font-size="5" dy="-3">3</tspan><tspan dy="3">/ч</tspan></text>
<text x="355.6" y="474.2" font-size="8.8" fill="#3d3d3d" textLength="21.6" lengthAdjust="spacingAndGlyphs" stroke="#3d3d3d" stroke-width="0.12">л/мин</text>
<text x="394.5" y="459.1" font-size="8" text-anchor="middle" fill="#1f1f1f" textLength="4.23" lengthAdjust="spacingAndGlyphs" stroke="#1f1f1f" stroke-width="0.16">0</text>
<text x="394.5" y="474.2" font-size="8.6" font-weight="bold" text-anchor="middle" fill="#231f20" textLength="4.59" lengthAdjust="spacingAndGlyphs" stroke="#231f20" stroke-width="0.25">0</text>
<text x="414" y="459.1" font-size="8" text-anchor="middle" fill="#1f1f1f" textLength="10.57" lengthAdjust="spacingAndGlyphs" stroke="#1f1f1f" stroke-width="0.16">0.6</text>
<text x="414" y="474.2" font-size="8.6" font-weight="bold" text-anchor="middle" fill="#231f20" textLength="9.18" lengthAdjust="spacingAndGlyphs" stroke="#231f20" stroke-width="0.25">10</text>
<text x="433.5" y="459.1" font-size="8" text-anchor="middle" fill="#1f1f1f" textLength="10.57" lengthAdjust="spacingAndGlyphs" stroke="#1f1f1f" stroke-width="0.16">1.2</text>
<text x="433.5" y="474.2" font-size="8.6" font-weight="bold" text-anchor="middle" fill="#231f20" textLength="9.18" lengthAdjust="spacingAndGlyphs" stroke="#231f20" stroke-width="0.25">20</text>
<text x="453.5" y="459.1" font-size="8" text-anchor="middle" fill="#1f1f1f" textLength="10.57" lengthAdjust="spacingAndGlyphs" stroke="#1f1f1f" stroke-width="0.16">2.4</text>
<text x="453.5" y="474.2" font-size="8.6" font-weight="bold" text-anchor="middle" fill="#231f20" textLength="9.18" lengthAdjust="spacingAndGlyphs" stroke="#231f20" stroke-width="0.25">40</text>
<text x="473.5" y="459.1" font-size="8" text-anchor="middle" fill="#1f1f1f" textLength="10.57" lengthAdjust="spacingAndGlyphs" stroke="#1f1f1f" stroke-width="0.16">3.6</text>
<text x="473.5" y="474.2" font-size="8.6" font-weight="bold" text-anchor="middle" fill="#231f20" textLength="9.18" lengthAdjust="spacingAndGlyphs" stroke="#231f20" stroke-width="0.25">60</text>
<text x="493.5" y="459.1" font-size="8" text-anchor="middle" fill="#1f1f1f" textLength="10.57" lengthAdjust="spacingAndGlyphs" stroke="#1f1f1f" stroke-width="0.16">5.4</text>
<text x="493.5" y="474.2" font-size="8.6" font-weight="bold" text-anchor="middle" fill="#231f20" textLength="9.18" lengthAdjust="spacingAndGlyphs" stroke="#231f20" stroke-width="0.25">90</text>
<text x="513.35" y="459.1" font-size="8" text-anchor="middle" fill="#1f1f1f" textLength="10.57" lengthAdjust="spacingAndGlyphs" stroke="#1f1f1f" stroke-width="0.16">6.0</text>
<text x="513.35" y="474.2" font-size="8.6" font-weight="bold" text-anchor="middle" fill="#231f20" textLength="13.77" lengthAdjust="spacingAndGlyphs" stroke="#231f20" stroke-width="0.25">100</text>
<text x="532.85" y="459.1" font-size="8" text-anchor="middle" fill="#1f1f1f" textLength="10.57" lengthAdjust="spacingAndGlyphs" stroke="#1f1f1f" stroke-width="0.16">7.2</text>
<text x="532.85" y="474.2" font-size="8.6" font-weight="bold" text-anchor="middle" fill="#231f20" textLength="13.77" lengthAdjust="spacingAndGlyphs" stroke="#231f20" stroke-width="0.25">120</text>
<text x="552.5" y="459.1" font-size="8" text-anchor="middle" fill="#1f1f1f" textLength="10.57" lengthAdjust="spacingAndGlyphs" stroke="#1f1f1f" stroke-width="0.16">8.4</text>
<text x="552.5" y="474.2" font-size="8.6" font-weight="bold" text-anchor="middle" fill="#231f20" textLength="13.77" lengthAdjust="spacingAndGlyphs" stroke="#231f20" stroke-width="0.25">140</text>
<text x="572.5" y="459.1" font-size="8" text-anchor="middle" fill="#1f1f1f" textLength="10.57" lengthAdjust="spacingAndGlyphs" stroke="#1f1f1f" stroke-width="0.16">9.0</text>
<text x="572.5" y="474.2" font-size="8.6" font-weight="bold" text-anchor="middle" fill="#231f20" textLength="13.77" lengthAdjust="spacingAndGlyphs" stroke="#231f20" stroke-width="0.25">150</text>
<text x="592.5" y="459.1" font-size="8" text-anchor="middle" fill="#1f1f1f" textLength="10.57" lengthAdjust="spacingAndGlyphs" stroke="#1f1f1f" stroke-width="0.16">9.6</text>
<text x="592.5" y="474.2" font-size="8.6" font-weight="bold" text-anchor="middle" fill="#231f20" textLength="13.77" lengthAdjust="spacingAndGlyphs" stroke="#231f20" stroke-width="0.25">160</text>
<text x="612" y="459.1" font-size="8" text-anchor="middle" fill="#1f1f1f" textLength="8.45" lengthAdjust="spacingAndGlyphs" stroke="#1f1f1f" stroke-width="0.16">12</text>
<text x="612" y="474.2" font-size="8.6" font-weight="bold" text-anchor="middle" fill="#231f20" textLength="13.77" lengthAdjust="spacingAndGlyphs" stroke="#231f20" stroke-width="0.25">200</text>
<text x="631.5" y="459.1" font-size="8" text-anchor="middle" fill="#1f1f1f" textLength="14.79" lengthAdjust="spacingAndGlyphs" stroke="#1f1f1f" stroke-width="0.16">13.8</text>
<text x="631.5" y="474.2" font-size="8.6" font-weight="bold" text-anchor="middle" fill="#231f20" textLength="13.77" lengthAdjust="spacingAndGlyphs" stroke="#231f20" stroke-width="0.25">230</text>
<text x="651.5" y="459.1" font-size="8" text-anchor="middle" fill="#1f1f1f" textLength="8.45" lengthAdjust="spacingAndGlyphs" stroke="#1f1f1f" stroke-width="0.16">15</text>
<text x="651.5" y="474.2" font-size="8.6" font-weight="bold" text-anchor="middle" fill="#231f20" textLength="13.77" lengthAdjust="spacingAndGlyphs" stroke="#231f20" stroke-width="0.25">250</text>
<text x="671.25" y="459.1" font-size="8" text-anchor="middle" fill="#1f1f1f" textLength="14.79" lengthAdjust="spacingAndGlyphs" stroke="#1f1f1f" stroke-width="0.16">16.2</text>
<text x="671.25" y="474.2" font-size="8.6" font-weight="bold" text-anchor="middle" fill="#231f20" textLength="13.77" lengthAdjust="spacingAndGlyphs" stroke="#231f20" stroke-width="0.25">270</text>
<text x="120.8" y="488.7" font-size="8.9" font-weight="bold" fill="#231f20" textLength="56.03" lengthAdjust="spacingAndGlyphs" stroke="#231f20" stroke-width="0.25">CPm 100-ST4</text>
<text x="193.4" y="488.7" font-size="8.9" font-weight="bold" fill="#231f20" textLength="48.08" lengthAdjust="spacingAndGlyphs" stroke="#231f20" stroke-width="0.25">CP 100-ST4</text>
<text x="120.8" y="500.2" font-size="8.9" font-weight="bold" fill="#231f20" textLength="56.03" lengthAdjust="spacingAndGlyphs" stroke="#231f20" stroke-width="0.25">CPm 100-ST6</text>
<text x="193.4" y="500.2" font-size="8.9" font-weight="bold" fill="#231f20" textLength="48.08" lengthAdjust="spacingAndGlyphs" stroke="#231f20" stroke-width="0.25">CP 100-ST6</text>
<text x="269.9" y="494.35" font-size="9.2" text-anchor="middle" fill="#1f1f1f" textLength="16.65" lengthAdjust="spacingAndGlyphs" stroke="#1f1f1f" stroke-width="0.16">0.25</text>
<text x="301.6" y="494.35" font-size="9.2" text-anchor="middle" fill="#1f1f1f" textLength="16.65" lengthAdjust="spacingAndGlyphs" stroke="#1f1f1f" stroke-width="0.16">0.33</text>
<text x="394.5" y="494.5" font-size="8.15" text-anchor="middle" fill="#1f1f1f" textLength="8.43" lengthAdjust="spacingAndGlyphs" stroke="#1f1f1f" stroke-width="0.16">16</text>
<text x="414" y="494.5" font-size="8.15" text-anchor="middle" fill="#1f1f1f" textLength="14.75" lengthAdjust="spacingAndGlyphs" stroke="#1f1f1f" stroke-width="0.16">15.5</text>
<text x="433.5" y="494.5" font-size="8.15" text-anchor="middle" fill="#1f1f1f" textLength="8.43" lengthAdjust="spacingAndGlyphs" stroke="#1f1f1f" stroke-width="0.16">15</text>
<text x="453.5" y="494.5" font-size="8.15" text-anchor="middle" fill="#1f1f1f" textLength="14.75" lengthAdjust="spacingAndGlyphs" stroke="#1f1f1f" stroke-width="0.16">13.5</text>
<text x="473.5" y="494.5" font-size="8.15" text-anchor="middle" fill="#1f1f1f" textLength="14.19" lengthAdjust="spacingAndGlyphs" stroke="#1f1f1f" stroke-width="0.16">11.2</text>
<text x="493.5" y="494.5" font-size="8.15" text-anchor="middle" fill="#1f1f1f" textLength="10.54" lengthAdjust="spacingAndGlyphs" stroke="#1f1f1f" stroke-width="0.16">6.5</text>
<text x="120.8" y="513.51" font-size="8.9" font-weight="bold" fill="#231f20" textLength="56.03" lengthAdjust="spacingAndGlyphs" stroke="#231f20" stroke-width="0.25">CPm 130-ST4</text>
<text x="193.4" y="513.51" font-size="8.9" font-weight="bold" fill="#231f20" textLength="48.08" lengthAdjust="spacingAndGlyphs" stroke="#231f20" stroke-width="0.25">CP 130-ST4</text>
<text x="120.8" y="525.01" font-size="8.9" font-weight="bold" fill="#231f20" textLength="56.03" lengthAdjust="spacingAndGlyphs" stroke="#231f20" stroke-width="0.25">CPm 130-ST6</text>
<text x="193.4" y="525.01" font-size="8.9" font-weight="bold" fill="#231f20" textLength="48.08" lengthAdjust="spacingAndGlyphs" stroke="#231f20" stroke-width="0.25">CP 130-ST6</text>
<text x="269.9" y="519.17" font-size="9.2" text-anchor="middle" fill="#1f1f1f" textLength="16.65" lengthAdjust="spacingAndGlyphs" stroke="#1f1f1f" stroke-width="0.16">0.37</text>
<text x="301.6" y="519.17" font-size="9.2" text-anchor="middle" fill="#1f1f1f" textLength="16.65" lengthAdjust="spacingAndGlyphs" stroke="#1f1f1f" stroke-width="0.16">0.50</text>
<text x="394.5" y="519.32" font-size="8.15" text-anchor="middle" fill="#1f1f1f" textLength="14.75" lengthAdjust="spacingAndGlyphs" stroke="#1f1f1f" stroke-width="0.16">22.5</text>
<text x="414" y="519.32" font-size="8.15" text-anchor="middle" fill="#1f1f1f" textLength="14.75" lengthAdjust="spacingAndGlyphs" stroke="#1f1f1f" stroke-width="0.16">21.5</text>
<text x="433.5" y="519.32" font-size="8.15" text-anchor="middle" fill="#1f1f1f" textLength="14.75" lengthAdjust="spacingAndGlyphs" stroke="#1f1f1f" stroke-width="0.16">20.8</text>
<text x="453.5" y="519.32" font-size="8.15" text-anchor="middle" fill="#1f1f1f" textLength="14.75" lengthAdjust="spacingAndGlyphs" stroke="#1f1f1f" stroke-width="0.16">18.8</text>
<text x="473.5" y="519.32" font-size="8.15" text-anchor="middle" fill="#1f1f1f" textLength="8.43" lengthAdjust="spacingAndGlyphs" stroke="#1f1f1f" stroke-width="0.16">16</text>
<text x="493.5" y="519.32" font-size="8.15" text-anchor="middle" fill="#1f1f1f" textLength="14.75" lengthAdjust="spacingAndGlyphs" stroke="#1f1f1f" stroke-width="0.16">10.8</text>
<text x="513.35" y="519.32" font-size="8.15" text-anchor="middle" fill="#1f1f1f" textLength="4.22" lengthAdjust="spacingAndGlyphs" stroke="#1f1f1f" stroke-width="0.16">9</text>
<text x="120.8" y="538.32" font-size="8.9" font-weight="bold" fill="#231f20" textLength="56.03" lengthAdjust="spacingAndGlyphs" stroke="#231f20" stroke-width="0.25">CPm 132-ST4</text>
<text x="193.4" y="538.32" font-size="8.9" font-weight="bold" fill="#231f20" textLength="48.08" lengthAdjust="spacingAndGlyphs" stroke="#231f20" stroke-width="0.25">CP 132-ST4</text>
<text x="120.8" y="549.82" font-size="8.9" font-weight="bold" fill="#231f20" textLength="56.03" lengthAdjust="spacingAndGlyphs" stroke="#231f20" stroke-width="0.25">CPm 132-ST6</text>
<text x="193.4" y="549.82" font-size="8.9" font-weight="bold" fill="#231f20" textLength="48.08" lengthAdjust="spacingAndGlyphs" stroke="#231f20" stroke-width="0.25">CP 132-ST6</text>
<text x="269.9" y="543.98" font-size="9.2" text-anchor="middle" fill="#1f1f1f" textLength="16.65" lengthAdjust="spacingAndGlyphs" stroke="#1f1f1f" stroke-width="0.16">0.55</text>
<text x="301.6" y="543.98" font-size="9.2" text-anchor="middle" fill="#1f1f1f" textLength="16.65" lengthAdjust="spacingAndGlyphs" stroke="#1f1f1f" stroke-width="0.16">0.75</text>
<text x="394.5" y="544.12" font-size="8.15" text-anchor="middle" fill="#1f1f1f" textLength="8.43" lengthAdjust="spacingAndGlyphs" stroke="#1f1f1f" stroke-width="0.16">24</text>
<text x="414" y="544.12" font-size="8.15" text-anchor="middle" fill="#1f1f1f" textLength="4.22" lengthAdjust="spacingAndGlyphs" stroke="#1f1f1f" stroke-width="0.16">–</text>
<text x="433.5" y="544.12" font-size="8.15" text-anchor="middle" fill="#1f1f1f" textLength="8.43" lengthAdjust="spacingAndGlyphs" stroke="#1f1f1f" stroke-width="0.16">23</text>
<text x="453.5" y="544.12" font-size="8.15" text-anchor="middle" fill="#1f1f1f" textLength="14.75" lengthAdjust="spacingAndGlyphs" stroke="#1f1f1f" stroke-width="0.16">21.5</text>
<text x="473.5" y="544.12" font-size="8.15" text-anchor="middle" fill="#1f1f1f" textLength="14.75" lengthAdjust="spacingAndGlyphs" stroke="#1f1f1f" stroke-width="0.16">19.8</text>
<text x="493.5" y="544.12" font-size="8.15" text-anchor="middle" fill="#1f1f1f" textLength="14.75" lengthAdjust="spacingAndGlyphs" stroke="#1f1f1f" stroke-width="0.16">16.5</text>
<text x="513.35" y="544.12" font-size="8.15" text-anchor="middle" fill="#1f1f1f" textLength="8.43" lengthAdjust="spacingAndGlyphs" stroke="#1f1f1f" stroke-width="0.16">15</text>
<text x="532.85" y="544.12" font-size="8.15" text-anchor="middle" fill="#1f1f1f" textLength="8.43" lengthAdjust="spacingAndGlyphs" stroke="#1f1f1f" stroke-width="0.16">12</text>
<text x="120.8" y="563.13" font-size="8.9" font-weight="bold" fill="#231f20" textLength="56.03" lengthAdjust="spacingAndGlyphs" stroke="#231f20" stroke-width="0.25">CPm 150-ST4</text>
<text x="193.4" y="563.13" font-size="8.9" font-weight="bold" fill="#231f20" textLength="48.08" lengthAdjust="spacingAndGlyphs" stroke="#231f20" stroke-width="0.25">CP 150-ST4</text>
<text x="120.8" y="574.63" font-size="8.9" font-weight="bold" fill="#231f20" textLength="56.03" lengthAdjust="spacingAndGlyphs" stroke="#231f20" stroke-width="0.25">CPm 150-ST6</text>
<text x="193.4" y="574.63" font-size="8.9" font-weight="bold" fill="#231f20" textLength="48.08" lengthAdjust="spacingAndGlyphs" stroke="#231f20" stroke-width="0.25">CP 150-ST6</text>
<text x="269.9" y="568.79" font-size="9.2" text-anchor="middle" fill="#1f1f1f" textLength="16.65" lengthAdjust="spacingAndGlyphs" stroke="#1f1f1f" stroke-width="0.16">0.75</text>
<text x="301.6" y="568.79" font-size="9.2" text-anchor="middle" fill="#1f1f1f" textLength="4.76" lengthAdjust="spacingAndGlyphs" stroke="#1f1f1f" stroke-width="0.16">1</text>
<text x="394.5" y="568.94" font-size="8.15" text-anchor="middle" fill="#1f1f1f" textLength="8.43" lengthAdjust="spacingAndGlyphs" stroke="#1f1f1f" stroke-width="0.16">32</text>
<text x="414" y="568.94" font-size="8.15" text-anchor="middle" fill="#1f1f1f" textLength="4.22" lengthAdjust="spacingAndGlyphs" stroke="#1f1f1f" stroke-width="0.16">–</text>
<text x="433.5" y="568.94" font-size="8.15" text-anchor="middle" fill="#1f1f1f" textLength="8.43" lengthAdjust="spacingAndGlyphs" stroke="#1f1f1f" stroke-width="0.16">31</text>
<text x="453.5" y="568.94" font-size="8.15" text-anchor="middle" fill="#1f1f1f" textLength="14.75" lengthAdjust="spacingAndGlyphs" stroke="#1f1f1f" stroke-width="0.16">29.8</text>
<text x="473.5" y="568.94" font-size="8.15" text-anchor="middle" fill="#1f1f1f" textLength="8.43" lengthAdjust="spacingAndGlyphs" stroke="#1f1f1f" stroke-width="0.16">28</text>
<text x="493.5" y="568.94" font-size="8.15" text-anchor="middle" fill="#1f1f1f" textLength="14.75" lengthAdjust="spacingAndGlyphs" stroke="#1f1f1f" stroke-width="0.16">24.8</text>
<text x="513.35" y="568.94" font-size="8.15" text-anchor="middle" fill="#1f1f1f" textLength="14.75" lengthAdjust="spacingAndGlyphs" stroke="#1f1f1f" stroke-width="0.16">23.2</text>
<text x="532.85" y="568.94" font-size="8.15" text-anchor="middle" fill="#1f1f1f" textLength="8.43" lengthAdjust="spacingAndGlyphs" stroke="#1f1f1f" stroke-width="0.16">20</text>
<text x="552.5" y="568.94" font-size="8.15" text-anchor="middle" fill="#1f1f1f" textLength="8.43" lengthAdjust="spacingAndGlyphs" stroke="#1f1f1f" stroke-width="0.16">16</text>
<text x="572.5" y="568.94" font-size="8.15" text-anchor="middle" fill="#1f1f1f" textLength="8.43" lengthAdjust="spacingAndGlyphs" stroke="#1f1f1f" stroke-width="0.16">14</text>
<text x="120.8" y="587.94" font-size="8.9" font-weight="bold" fill="#231f20" textLength="56.03" lengthAdjust="spacingAndGlyphs" stroke="#231f20" stroke-width="0.25">CPm 158-ST4</text>
<text x="193.4" y="587.94" font-size="8.9" font-weight="bold" fill="#231f20" textLength="48.08" lengthAdjust="spacingAndGlyphs" stroke="#231f20" stroke-width="0.25">CP 158-ST4</text>
<text x="120.8" y="599.44" font-size="8.9" font-weight="bold" fill="#231f20" textLength="56.03" lengthAdjust="spacingAndGlyphs" stroke="#231f20" stroke-width="0.25">CPm 158-ST6</text>
<text x="193.4" y="599.44" font-size="8.9" font-weight="bold" fill="#231f20" textLength="48.08" lengthAdjust="spacingAndGlyphs" stroke="#231f20" stroke-width="0.25">CP 158-ST6</text>
<text x="269.9" y="593.6" font-size="9.2" text-anchor="middle" fill="#1f1f1f" textLength="16.65" lengthAdjust="spacingAndGlyphs" stroke="#1f1f1f" stroke-width="0.16">0.75</text>
<text x="301.6" y="593.6" font-size="9.2" text-anchor="middle" fill="#1f1f1f" textLength="4.76" lengthAdjust="spacingAndGlyphs" stroke="#1f1f1f" stroke-width="0.16">1</text>
<text x="394.5" y="593.75" font-size="8.15" text-anchor="middle" fill="#1f1f1f" textLength="14.75" lengthAdjust="spacingAndGlyphs" stroke="#1f1f1f" stroke-width="0.16">36.5</text>
<text x="414" y="593.75" font-size="8.15" text-anchor="middle" fill="#1f1f1f" textLength="14.75" lengthAdjust="spacingAndGlyphs" stroke="#1f1f1f" stroke-width="0.16">35.5</text>
<text x="433.5" y="593.75" font-size="8.15" text-anchor="middle" fill="#1f1f1f" textLength="14.75" lengthAdjust="spacingAndGlyphs" stroke="#1f1f1f" stroke-width="0.16">34.5</text>
<text x="453.5" y="593.75" font-size="8.15" text-anchor="middle" fill="#1f1f1f" textLength="8.43" lengthAdjust="spacingAndGlyphs" stroke="#1f1f1f" stroke-width="0.16">33</text>
<text x="473.5" y="593.75" font-size="8.15" text-anchor="middle" fill="#1f1f1f" textLength="8.43" lengthAdjust="spacingAndGlyphs" stroke="#1f1f1f" stroke-width="0.16">31</text>
<text x="493.5" y="593.75" font-size="8.15" text-anchor="middle" fill="#1f1f1f" textLength="14.75" lengthAdjust="spacingAndGlyphs" stroke="#1f1f1f" stroke-width="0.16">26.2</text>
<text x="513.35" y="593.75" font-size="8.15" text-anchor="middle" fill="#1f1f1f" textLength="8.43" lengthAdjust="spacingAndGlyphs" stroke="#1f1f1f" stroke-width="0.16">23</text>
<text x="532.85" y="593.75" font-size="8.15" text-anchor="middle" fill="#1f1f1f" textLength="8.43" lengthAdjust="spacingAndGlyphs" stroke="#1f1f1f" stroke-width="0.16">19</text>
<text x="120.8" y="612.75" font-size="8.9" font-weight="bold" fill="#231f20" textLength="56.03" lengthAdjust="spacingAndGlyphs" stroke="#231f20" stroke-width="0.25">CPm 170-ST4</text>
<text x="193.4" y="612.75" font-size="8.9" font-weight="bold" fill="#231f20" textLength="48.08" lengthAdjust="spacingAndGlyphs" stroke="#231f20" stroke-width="0.25">CP 170-ST4</text>
<text x="120.8" y="624.25" font-size="8.9" font-weight="bold" fill="#231f20" textLength="56.03" lengthAdjust="spacingAndGlyphs" stroke="#231f20" stroke-width="0.25">CPm 170-ST6</text>
<text x="193.4" y="624.25" font-size="8.9" font-weight="bold" fill="#231f20" textLength="48.08" lengthAdjust="spacingAndGlyphs" stroke="#231f20" stroke-width="0.25">CP 170-ST6</text>
<text x="269.9" y="618.4" font-size="9.2" text-anchor="middle" fill="#1f1f1f" textLength="11.89" lengthAdjust="spacingAndGlyphs" stroke="#1f1f1f" stroke-width="0.16">1.1</text>
<text x="301.6" y="618.4" font-size="9.2" text-anchor="middle" fill="#1f1f1f" textLength="11.89" lengthAdjust="spacingAndGlyphs" stroke="#1f1f1f" stroke-width="0.16">1.5</text>
<text x="394.5" y="618.55" font-size="8.15" text-anchor="middle" fill="#1f1f1f" textLength="8.43" lengthAdjust="spacingAndGlyphs" stroke="#1f1f1f" stroke-width="0.16">41</text>
<text x="414" y="618.55" font-size="8.15" text-anchor="middle" fill="#1f1f1f" textLength="8.43" lengthAdjust="spacingAndGlyphs" stroke="#1f1f1f" stroke-width="0.16">40</text>
<text x="433.5" y="618.55" font-size="8.15" text-anchor="middle" fill="#1f1f1f" textLength="14.75" lengthAdjust="spacingAndGlyphs" stroke="#1f1f1f" stroke-width="0.16">39.2</text>
<text x="453.5" y="618.55" font-size="8.15" text-anchor="middle" fill="#1f1f1f" textLength="14.75" lengthAdjust="spacingAndGlyphs" stroke="#1f1f1f" stroke-width="0.16">37.8</text>
<text x="473.5" y="618.55" font-size="8.15" text-anchor="middle" fill="#1f1f1f" textLength="8.43" lengthAdjust="spacingAndGlyphs" stroke="#1f1f1f" stroke-width="0.16">36</text>
<text x="493.5" y="618.55" font-size="8.15" text-anchor="middle" fill="#1f1f1f" textLength="8.43" lengthAdjust="spacingAndGlyphs" stroke="#1f1f1f" stroke-width="0.16">32</text>
<text x="513.35" y="618.55" font-size="8.15" text-anchor="middle" fill="#1f1f1f" textLength="8.43" lengthAdjust="spacingAndGlyphs" stroke="#1f1f1f" stroke-width="0.16">30</text>
<text x="532.85" y="618.55" font-size="8.15" text-anchor="middle" fill="#1f1f1f" textLength="14.75" lengthAdjust="spacingAndGlyphs" stroke="#1f1f1f" stroke-width="0.16">25.8</text>
<text x="552.5" y="618.55" font-size="8.15" text-anchor="middle" fill="#1f1f1f" textLength="8.43" lengthAdjust="spacingAndGlyphs" stroke="#1f1f1f" stroke-width="0.16">20</text>
<text x="120.8" y="637.56" font-size="8.9" font-weight="bold" fill="#231f20" textLength="63.33" lengthAdjust="spacingAndGlyphs" stroke="#231f20" stroke-width="0.25">CPm 170M-ST4</text>
<text x="193.4" y="637.56" font-size="8.9" font-weight="bold" fill="#231f20" textLength="55.38" lengthAdjust="spacingAndGlyphs" stroke="#231f20" stroke-width="0.25">CP 170M-ST4</text>
<text x="120.8" y="649.06" font-size="8.9" font-weight="bold" fill="#231f20" textLength="63.33" lengthAdjust="spacingAndGlyphs" stroke="#231f20" stroke-width="0.25">CPm 170M-ST6</text>
<text x="193.4" y="649.06" font-size="8.9" font-weight="bold" fill="#231f20" textLength="55.38" lengthAdjust="spacingAndGlyphs" stroke="#231f20" stroke-width="0.25">CP 170M-ST6</text>
<text x="269.9" y="643.22" font-size="9.2" text-anchor="middle" fill="#1f1f1f" textLength="11.89" lengthAdjust="spacingAndGlyphs" stroke="#1f1f1f" stroke-width="0.16">1.1</text>
<text x="301.6" y="643.22" font-size="9.2" text-anchor="middle" fill="#1f1f1f" textLength="11.89" lengthAdjust="spacingAndGlyphs" stroke="#1f1f1f" stroke-width="0.16">1.5</text>
<text x="394.5" y="643.37" font-size="8.15" text-anchor="middle" fill="#1f1f1f" textLength="14.75" lengthAdjust="spacingAndGlyphs" stroke="#1f1f1f" stroke-width="0.16">36.5</text>
<text x="414" y="643.37" font-size="8.15" text-anchor="middle" fill="#1f1f1f" textLength="4.22" lengthAdjust="spacingAndGlyphs" stroke="#1f1f1f" stroke-width="0.16">–</text>
<text x="433.5" y="643.37" font-size="8.15" text-anchor="middle" fill="#1f1f1f" textLength="14.75" lengthAdjust="spacingAndGlyphs" stroke="#1f1f1f" stroke-width="0.16">35.5</text>
<text x="453.5" y="643.37" font-size="8.15" text-anchor="middle" fill="#1f1f1f" textLength="14.75" lengthAdjust="spacingAndGlyphs" stroke="#1f1f1f" stroke-width="0.16">34.3</text>
<text x="473.5" y="643.37" font-size="8.15" text-anchor="middle" fill="#1f1f1f" textLength="8.43" lengthAdjust="spacingAndGlyphs" stroke="#1f1f1f" stroke-width="0.16">33</text>
<text x="493.5" y="643.37" font-size="8.15" text-anchor="middle" fill="#1f1f1f" textLength="8.43" lengthAdjust="spacingAndGlyphs" stroke="#1f1f1f" stroke-width="0.16">30</text>
<text x="513.35" y="643.37" font-size="8.15" text-anchor="middle" fill="#1f1f1f" textLength="8.43" lengthAdjust="spacingAndGlyphs" stroke="#1f1f1f" stroke-width="0.16">29</text>
<text x="532.85" y="643.37" font-size="8.15" text-anchor="middle" fill="#1f1f1f" textLength="14.75" lengthAdjust="spacingAndGlyphs" stroke="#1f1f1f" stroke-width="0.16">31.2</text>
<text x="552.5" y="643.37" font-size="8.15" text-anchor="middle" fill="#1f1f1f" textLength="8.43" lengthAdjust="spacingAndGlyphs" stroke="#1f1f1f" stroke-width="0.16">23</text>
<text x="572.5" y="643.37" font-size="8.15" text-anchor="middle" fill="#1f1f1f" textLength="8.43" lengthAdjust="spacingAndGlyphs" stroke="#1f1f1f" stroke-width="0.16">21</text>
<text x="592.5" y="643.37" font-size="8.15" text-anchor="middle" fill="#1f1f1f" textLength="8.43" lengthAdjust="spacingAndGlyphs" stroke="#1f1f1f" stroke-width="0.16">19</text>
<text x="120.8" y="662.37" font-size="8.9" font-weight="bold" fill="#231f20" textLength="56.03" lengthAdjust="spacingAndGlyphs" stroke="#231f20" stroke-width="0.25">CPm 180-ST4</text>
<text x="193.4" y="662.37" font-size="8.9" font-weight="bold" fill="#231f20" textLength="48.08" lengthAdjust="spacingAndGlyphs" stroke="#231f20" stroke-width="0.25">CP 180-ST4</text>
<text x="120.8" y="673.87" font-size="8.9" font-weight="bold" fill="#231f20" textLength="56.03" lengthAdjust="spacingAndGlyphs" stroke="#231f20" stroke-width="0.25">CPm 180-ST6</text>
<text x="193.4" y="673.87" font-size="8.9" font-weight="bold" fill="#231f20" textLength="48.08" lengthAdjust="spacingAndGlyphs" stroke="#231f20" stroke-width="0.25">CP 180-ST6</text>
<text x="269.9" y="668.03" font-size="9.2" text-anchor="middle" fill="#1f1f1f" textLength="11.89" lengthAdjust="spacingAndGlyphs" stroke="#1f1f1f" stroke-width="0.16">1.1</text>
<text x="301.6" y="668.03" font-size="9.2" text-anchor="middle" fill="#1f1f1f" textLength="11.89" lengthAdjust="spacingAndGlyphs" stroke="#1f1f1f" stroke-width="0.16">1.5</text>
<text x="394.5" y="668.18" font-size="8.15" text-anchor="middle" fill="#1f1f1f" textLength="14.75" lengthAdjust="spacingAndGlyphs" stroke="#1f1f1f" stroke-width="0.16">31.5</text>
<text x="414" y="668.18" font-size="8.15" text-anchor="middle" fill="#1f1f1f" textLength="4.22" lengthAdjust="spacingAndGlyphs" stroke="#1f1f1f" stroke-width="0.16">–</text>
<text x="433.5" y="668.18" font-size="8.15" text-anchor="middle" fill="#1f1f1f" textLength="4.22" lengthAdjust="spacingAndGlyphs" stroke="#1f1f1f" stroke-width="0.16">–</text>
<text x="453.5" y="668.18" font-size="8.15" text-anchor="middle" fill="#1f1f1f" textLength="8.43" lengthAdjust="spacingAndGlyphs" stroke="#1f1f1f" stroke-width="0.16">30</text>
<text x="473.5" y="668.18" font-size="8.15" text-anchor="middle" fill="#1f1f1f" textLength="14.75" lengthAdjust="spacingAndGlyphs" stroke="#1f1f1f" stroke-width="0.16">29.2</text>
<text x="493.5" y="668.18" font-size="8.15" text-anchor="middle" fill="#1f1f1f" textLength="14.75" lengthAdjust="spacingAndGlyphs" stroke="#1f1f1f" stroke-width="0.16">27.5</text>
<text x="513.35" y="668.18" font-size="8.15" text-anchor="middle" fill="#1f1f1f" textLength="14.75" lengthAdjust="spacingAndGlyphs" stroke="#1f1f1f" stroke-width="0.16">26.8</text>
<text x="532.85" y="668.18" font-size="8.15" text-anchor="middle" fill="#1f1f1f" textLength="14.75" lengthAdjust="spacingAndGlyphs" stroke="#1f1f1f" stroke-width="0.16">25.2</text>
<text x="552.5" y="668.18" font-size="8.15" text-anchor="middle" fill="#1f1f1f" textLength="14.75" lengthAdjust="spacingAndGlyphs" stroke="#1f1f1f" stroke-width="0.16">23.5</text>
<text x="572.5" y="668.18" font-size="8.15" text-anchor="middle" fill="#1f1f1f" textLength="14.75" lengthAdjust="spacingAndGlyphs" stroke="#1f1f1f" stroke-width="0.16">22.5</text>
<text x="592.5" y="668.18" font-size="8.15" text-anchor="middle" fill="#1f1f1f" textLength="14.75" lengthAdjust="spacingAndGlyphs" stroke="#1f1f1f" stroke-width="0.16">21.5</text>
<text x="612" y="668.18" font-size="8.15" text-anchor="middle" fill="#1f1f1f" textLength="8.43" lengthAdjust="spacingAndGlyphs" stroke="#1f1f1f" stroke-width="0.16">17</text>
<text x="631.5" y="668.18" font-size="8.15" text-anchor="middle" fill="#1f1f1f" textLength="8.43" lengthAdjust="spacingAndGlyphs" stroke="#1f1f1f" stroke-width="0.16">13</text>
<text x="120.8" y="687.18" font-size="8.9" font-weight="bold" fill="#231f20" textLength="56.03" lengthAdjust="spacingAndGlyphs" stroke="#231f20" stroke-width="0.25">CPm 190-ST4</text>
<text x="193.4" y="687.18" font-size="8.9" font-weight="bold" fill="#231f20" textLength="48.08" lengthAdjust="spacingAndGlyphs" stroke="#231f20" stroke-width="0.25">CP 190-ST4</text>
<text x="120.8" y="698.68" font-size="8.9" font-weight="bold" fill="#231f20" textLength="56.03" lengthAdjust="spacingAndGlyphs" stroke="#231f20" stroke-width="0.25">CPm 190-ST6</text>
<text x="193.4" y="698.68" font-size="8.9" font-weight="bold" fill="#231f20" textLength="48.08" lengthAdjust="spacingAndGlyphs" stroke="#231f20" stroke-width="0.25">CP 190-ST6</text>
<text x="269.9" y="692.84" font-size="9.2" text-anchor="middle" fill="#1f1f1f" textLength="11.89" lengthAdjust="spacingAndGlyphs" stroke="#1f1f1f" stroke-width="0.16">1.5</text>
<text x="301.6" y="692.84" font-size="9.2" text-anchor="middle" fill="#1f1f1f" textLength="4.76" lengthAdjust="spacingAndGlyphs" stroke="#1f1f1f" stroke-width="0.16">2</text>
<text x="394.5" y="692.99" font-size="8.15" text-anchor="middle" fill="#1f1f1f" textLength="8.43" lengthAdjust="spacingAndGlyphs" stroke="#1f1f1f" stroke-width="0.16">37</text>
<text x="414" y="692.99" font-size="8.15" text-anchor="middle" fill="#1f1f1f" textLength="4.22" lengthAdjust="spacingAndGlyphs" stroke="#1f1f1f" stroke-width="0.16">–</text>
<text x="433.5" y="692.99" font-size="8.15" text-anchor="middle" fill="#1f1f1f" textLength="4.22" lengthAdjust="spacingAndGlyphs" stroke="#1f1f1f" stroke-width="0.16">–</text>
<text x="453.5" y="692.99" font-size="8.15" text-anchor="middle" fill="#1f1f1f" textLength="8.43" lengthAdjust="spacingAndGlyphs" stroke="#1f1f1f" stroke-width="0.16">35</text>
<text x="473.5" y="692.99" font-size="8.15" text-anchor="middle" fill="#1f1f1f" textLength="8.43" lengthAdjust="spacingAndGlyphs" stroke="#1f1f1f" stroke-width="0.16">34</text>
<text x="493.5" y="692.99" font-size="8.15" text-anchor="middle" fill="#1f1f1f" textLength="14.75" lengthAdjust="spacingAndGlyphs" stroke="#1f1f1f" stroke-width="0.16">32.5</text>
<text x="513.35" y="692.99" font-size="8.15" text-anchor="middle" fill="#1f1f1f" textLength="8.43" lengthAdjust="spacingAndGlyphs" stroke="#1f1f1f" stroke-width="0.16">32</text>
<text x="532.85" y="692.99" font-size="8.15" text-anchor="middle" fill="#1f1f1f" textLength="14.75" lengthAdjust="spacingAndGlyphs" stroke="#1f1f1f" stroke-width="0.16">30.5</text>
<text x="552.5" y="692.99" font-size="8.15" text-anchor="middle" fill="#1f1f1f" textLength="14.75" lengthAdjust="spacingAndGlyphs" stroke="#1f1f1f" stroke-width="0.16">28.5</text>
<text x="572.5" y="692.99" font-size="8.15" text-anchor="middle" fill="#1f1f1f" textLength="14.75" lengthAdjust="spacingAndGlyphs" stroke="#1f1f1f" stroke-width="0.16">27.5</text>
<text x="592.5" y="692.99" font-size="8.15" text-anchor="middle" fill="#1f1f1f" textLength="8.43" lengthAdjust="spacingAndGlyphs" stroke="#1f1f1f" stroke-width="0.16">27</text>
<text x="612" y="692.99" font-size="8.15" text-anchor="middle" fill="#1f1f1f" textLength="14.75" lengthAdjust="spacingAndGlyphs" stroke="#1f1f1f" stroke-width="0.16">22.5</text>
<text x="631.5" y="692.99" font-size="8.15" text-anchor="middle" fill="#1f1f1f" textLength="14.75" lengthAdjust="spacingAndGlyphs" stroke="#1f1f1f" stroke-width="0.16">18.5</text>
<text x="651.5" y="692.99" font-size="8.15" text-anchor="middle" fill="#1f1f1f" textLength="14.75" lengthAdjust="spacingAndGlyphs" stroke="#1f1f1f" stroke-width="0.16">15.5</text>
<text x="120.8" y="711.99" font-size="8.9" font-weight="bold" fill="#231f20" textLength="56.03" lengthAdjust="spacingAndGlyphs" stroke="#231f20" stroke-width="0.25">CPm 200-ST4</text>
<text x="193.4" y="711.99" font-size="8.9" font-weight="bold" fill="#231f20" textLength="48.08" lengthAdjust="spacingAndGlyphs" stroke="#231f20" stroke-width="0.25">CP 200-ST4</text>
<text x="120.8" y="723.49" font-size="8.9" font-weight="bold" fill="#231f20" textLength="56.03" lengthAdjust="spacingAndGlyphs" stroke="#231f20" stroke-width="0.25">CPm 200-ST6</text>
<text x="193.4" y="723.49" font-size="8.9" font-weight="bold" fill="#231f20" textLength="48.08" lengthAdjust="spacingAndGlyphs" stroke="#231f20" stroke-width="0.25">CP 200-ST6</text>
<text x="269.9" y="717.64" font-size="9.2" text-anchor="middle" fill="#1f1f1f" textLength="11.89" lengthAdjust="spacingAndGlyphs" stroke="#1f1f1f" stroke-width="0.16">2.2</text>
<text x="301.6" y="717.64" font-size="9.2" text-anchor="middle" fill="#1f1f1f" textLength="4.76" lengthAdjust="spacingAndGlyphs" stroke="#1f1f1f" stroke-width="0.16">3</text>
<text x="394.5" y="717.79" font-size="8.15" text-anchor="middle" fill="#1f1f1f" textLength="8.43" lengthAdjust="spacingAndGlyphs" stroke="#1f1f1f" stroke-width="0.16">45</text>
<text x="414" y="717.79" font-size="8.15" text-anchor="middle" fill="#1f1f1f" textLength="4.22" lengthAdjust="spacingAndGlyphs" stroke="#1f1f1f" stroke-width="0.16">–</text>
<text x="433.5" y="717.79" font-size="8.15" text-anchor="middle" fill="#1f1f1f" textLength="4.22" lengthAdjust="spacingAndGlyphs" stroke="#1f1f1f" stroke-width="0.16">–</text>
<text x="453.5" y="717.79" font-size="8.15" text-anchor="middle" fill="#1f1f1f" textLength="8.43" lengthAdjust="spacingAndGlyphs" stroke="#1f1f1f" stroke-width="0.16">43</text>
<text x="473.5" y="717.79" font-size="8.15" text-anchor="middle" fill="#1f1f1f" textLength="8.43" lengthAdjust="spacingAndGlyphs" stroke="#1f1f1f" stroke-width="0.16">42</text>
<text x="493.5" y="717.79" font-size="8.15" text-anchor="middle" fill="#1f1f1f" textLength="14.75" lengthAdjust="spacingAndGlyphs" stroke="#1f1f1f" stroke-width="0.16">40.5</text>
<text x="513.35" y="717.79" font-size="8.15" text-anchor="middle" fill="#1f1f1f" textLength="14.75" lengthAdjust="spacingAndGlyphs" stroke="#1f1f1f" stroke-width="0.16">39.5</text>
<text x="532.85" y="717.79" font-size="8.15" text-anchor="middle" fill="#1f1f1f" textLength="8.43" lengthAdjust="spacingAndGlyphs" stroke="#1f1f1f" stroke-width="0.16">38</text>
<text x="552.5" y="717.79" font-size="8.15" text-anchor="middle" fill="#1f1f1f" textLength="14.75" lengthAdjust="spacingAndGlyphs" stroke="#1f1f1f" stroke-width="0.16">36.5</text>
<text x="572.5" y="717.79" font-size="8.15" text-anchor="middle" fill="#1f1f1f" textLength="14.75" lengthAdjust="spacingAndGlyphs" stroke="#1f1f1f" stroke-width="0.16">35.5</text>
<text x="592.5" y="717.79" font-size="8.15" text-anchor="middle" fill="#1f1f1f" textLength="14.75" lengthAdjust="spacingAndGlyphs" stroke="#1f1f1f" stroke-width="0.16">34.2</text>
<text x="612" y="717.79" font-size="8.15" text-anchor="middle" fill="#1f1f1f" textLength="14.75" lengthAdjust="spacingAndGlyphs" stroke="#1f1f1f" stroke-width="0.16">29.5</text>
<text x="631.5" y="717.79" font-size="8.15" text-anchor="middle" fill="#1f1f1f" textLength="14.75" lengthAdjust="spacingAndGlyphs" stroke="#1f1f1f" stroke-width="0.16">25.5</text>
<text x="651.5" y="717.79" font-size="8.15" text-anchor="middle" fill="#1f1f1f" textLength="8.43" lengthAdjust="spacingAndGlyphs" stroke="#1f1f1f" stroke-width="0.16">22</text>
<text x="671.25" y="717.79" font-size="8.15" text-anchor="middle" fill="#1f1f1f" textLength="8.43" lengthAdjust="spacingAndGlyphs" stroke="#1f1f1f" stroke-width="0.16">18</text>
<text x="328.3" y="494.3" font-size="8.8" font-weight="bold" text-anchor="middle" fill="#231f20" textLength="13" lengthAdjust="spacingAndGlyphs" stroke="#231f20" stroke-width="0.25">IE2</text>
<text x="328.3" y="531.5" font-size="8.8" font-weight="bold" text-anchor="middle" fill="#231f20" textLength="13" lengthAdjust="spacingAndGlyphs" stroke="#231f20" stroke-width="0.25">IE3</text>
<text x="328.3" y="581.3" font-size="8.8" font-weight="bold" text-anchor="middle" fill="#231f20" textLength="13" lengthAdjust="spacingAndGlyphs" stroke="#231f20" stroke-width="0.25">IE3</text>
<text x="328.3" y="631" font-size="8.8" font-weight="bold" text-anchor="middle" fill="#231f20" textLength="13" lengthAdjust="spacingAndGlyphs" stroke="#231f20" stroke-width="0.25">IE3</text>
<text x="328.3" y="693.1" font-size="8.8" font-weight="bold" text-anchor="middle" fill="#231f20" textLength="13" lengthAdjust="spacingAndGlyphs" stroke="#231f20" stroke-width="0.25">IE3</text>
<text x="343.4" y="606.15" font-size="8.7" font-weight="bold" fill="#231f20" textLength="6.3" lengthAdjust="spacingAndGlyphs" stroke="#231f20" stroke-width="0.25">H</text>
<text x="355.6" y="605.95" font-size="8.5" fill="#3d3d3d" textLength="24.4" lengthAdjust="spacingAndGlyphs" stroke="#3d3d3d" stroke-width="0.12">метры</text>
<text x="117.7" y="739.1" font-size="7.5" font-weight="bold" fill="#231f20" textLength="4.9" lengthAdjust="spacingAndGlyphs" stroke="#231f20" stroke-width="0.25">Q</text>
<text x="124" y="739.1" font-size="7.5" fill="#222" textLength="74.8" lengthAdjust="spacingAndGlyphs" stroke="#222" stroke-width="0.08">- Производительность</text>
<text x="204" y="739.1" font-size="7.5" font-weight="bold" fill="#231f20" textLength="5" lengthAdjust="spacingAndGlyphs" stroke="#231f20" stroke-width="0.25">H</text>
<text x="210.6" y="739.1" font-size="7.5" fill="#222" textLength="112.2" lengthAdjust="spacingAndGlyphs" stroke="#222" stroke-width="0.08">- Общий манометрический напор</text>
<text x="327.9" y="739.1" font-size="7.5" font-weight="bold" fill="#231f20" textLength="8.7" lengthAdjust="spacingAndGlyphs" stroke="#231f20" stroke-width="0.25">HS</text>
<text x="338.6" y="739.1" font-size="7.5" fill="#222" textLength="67.3" lengthAdjust="spacingAndGlyphs" stroke="#222" stroke-width="0.08">- Высота всасывания</text>
<text x="117.6" y="751.3" font-size="7.5" fill="#222" textLength="315.6" lengthAdjust="spacingAndGlyphs" stroke="#222" stroke-width="0.08">Допустимое отклонение характеристик насосов соответствует классу 3B согласно EN ISO 9906.</text>
<path d="M118.7 768.5l3.05 -4.9l3.05 4.9z" fill="#231f20"/>
<text x="131" y="768.8" font-size="7.5" fill="#222" textLength="203.8" lengthAdjust="spacingAndGlyphs" stroke="#222" stroke-width="0.08">Класс эффективности трехфазного двигателя (IEC 60034-30-1)</text>
</svg>
</body>
</html>
